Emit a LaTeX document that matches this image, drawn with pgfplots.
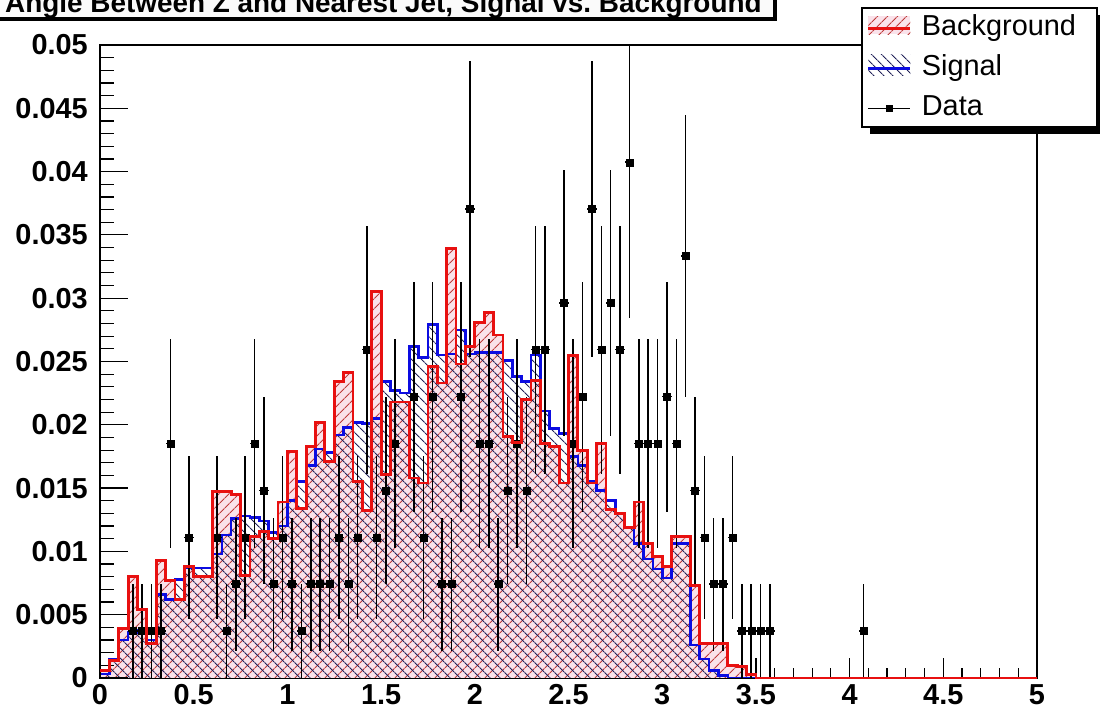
\documentclass[border=0pt]{standalone}
\usepackage{fontspec}
\setmainfont{Liberation Sans}
\usepackage{pgfplots}
\usepackage{pgfplotstable}
\pgfplotsset{compat=1.18}
\usetikzlibrary{patterns.meta}

\definecolor{bkgline}{RGB}{232,16,16}
\definecolor{sigline}{RGB}{12,12,225}
\definecolor{bkghatch}{RGB}{190,60,60}
\definecolor{sighatch}{RGB}{35,35,90}
\definecolor{bkgfill}{RGB}{250,226,234}

% background histogram: left bin edge, content
\pgfplotstableread{
x y
0.00 0.0006
0.05 0.0014
0.10 0.0039
0.15 0.0080
0.20 0.0054
0.25 0.0027
0.30 0.0093
0.35 0.0077
0.40 0.0062
0.45 0.0088
0.50 0.0080
0.55 0.0080
0.60 0.0147
0.65 0.0147
0.70 0.0145
0.75 0.0081
0.80 0.0112
0.85 0.0116
0.90 0.0110
0.95 0.0139
1.00 0.0179
1.05 0.0134
1.10 0.0183
1.15 0.0202
1.20 0.0171
1.25 0.0234
1.30 0.0241
1.35 0.0155
1.40 0.0132
1.45 0.0305
1.50 0.0161
1.55 0.0218
1.60 0.0218
1.65 0.0158
1.70 0.0154
1.75 0.0246
1.80 0.0233
1.85 0.0339
1.90 0.0248
1.95 0.0262
2.00 0.0281
2.05 0.0289
2.10 0.0271
2.15 0.0191
2.20 0.0186
2.25 0.0220
2.30 0.0235
2.35 0.0185
2.40 0.0183
2.45 0.0154
2.50 0.0255
2.55 0.0180
2.60 0.0154
2.65 0.0185
2.70 0.0133
2.75 0.0130
2.80 0.0119
2.85 0.0139
2.90 0.0106
2.95 0.0096
3.00 0.0088
3.05 0.0112
3.10 0.0112
3.15 0.0073
3.20 0.0027
3.25 0.0027
3.30 0.0027
3.35 0.0010
3.40 0.0009
3.45 0.0003
3.50 0.0000
5.00 0.0000
}\bkgtab

% signal histogram
\pgfplotstableread{
x y
0.00 0.0003
0.05 0.0015
0.10 0.0030
0.15 0.0036
0.20 0.0038
0.25 0.0030
0.30 0.0066
0.35 0.0062
0.40 0.0078
0.45 0.0087
0.50 0.0087
0.55 0.0087
0.60 0.0098
0.65 0.0113
0.70 0.0126
0.75 0.0128
0.80 0.0127
0.85 0.0124
0.90 0.0115
0.95 0.0120
1.00 0.0140
1.05 0.0155
1.10 0.0168
1.15 0.0181
1.20 0.0178
1.25 0.0192
1.30 0.0198
1.35 0.0202
1.40 0.0201
1.45 0.0205
1.50 0.0234
1.55 0.0227
1.60 0.0225
1.65 0.0262
1.70 0.0253
1.75 0.0279
1.80 0.0255
1.85 0.0256
1.90 0.0275
1.95 0.0256
2.00 0.0257
2.05 0.0257
2.10 0.0257
2.15 0.0251
2.20 0.0238
2.25 0.0234
2.30 0.0255
2.35 0.0211
2.40 0.0197
2.45 0.0193
2.50 0.0175
2.55 0.0168
2.60 0.0155
2.65 0.0148
2.70 0.0140
2.75 0.0130
2.80 0.0119
2.85 0.0106
2.90 0.0094
2.95 0.0086
3.00 0.0079
3.05 0.0106
3.10 0.0106
3.15 0.0026
3.20 0.0015
3.25 0.0006
3.30 0.0002
3.35 0.0000
5.00 0.0000
}\sigtab

% data: bin centre, half bin width, content, stat. error
\pgfplotstableread{
x ex y ey
0.175 0.025 0.00370 0.00370
0.225 0.025 0.00370 0.00370
0.275 0.025 0.00370 0.00370
0.325 0.025 0.00370 0.00370
0.375 0.025 0.01852 0.00828
0.475 0.025 0.01111 0.00642
0.625 0.025 0.01111 0.00642
0.675 0.025 0.00370 0.00370
0.725 0.025 0.00741 0.00524
0.775 0.025 0.01111 0.00642
0.825 0.025 0.01852 0.00828
0.875 0.025 0.01481 0.00741
0.925 0.025 0.00741 0.00524
0.975 0.025 0.01111 0.00642
1.025 0.025 0.00741 0.00524
1.075 0.025 0.00370 0.00370
1.125 0.025 0.00741 0.00524
1.175 0.025 0.00741 0.00524
1.225 0.025 0.00741 0.00524
1.275 0.025 0.01111 0.00642
1.325 0.025 0.00741 0.00524
1.375 0.025 0.01111 0.00642
1.425 0.025 0.02593 0.00980
1.475 0.025 0.01111 0.00642
1.525 0.025 0.01481 0.00741
1.575 0.025 0.01852 0.00828
1.675 0.025 0.02222 0.00907
1.725 0.025 0.01111 0.00642
1.775 0.025 0.02222 0.00907
1.825 0.025 0.00741 0.00524
1.875 0.025 0.00741 0.00524
1.925 0.025 0.02222 0.00907
1.975 0.025 0.03704 0.01171
2.025 0.025 0.01852 0.00828
2.075 0.025 0.01852 0.00828
2.125 0.025 0.00741 0.00524
2.175 0.025 0.01481 0.00741
2.225 0.025 0.01852 0.00828
2.275 0.025 0.01481 0.00741
2.325 0.025 0.02593 0.00980
2.375 0.025 0.02593 0.00980
2.475 0.025 0.02963 0.01048
2.525 0.025 0.01852 0.00828
2.575 0.025 0.02222 0.00907
2.625 0.025 0.03704 0.01171
2.675 0.025 0.02593 0.00980
2.725 0.025 0.02963 0.01048
2.775 0.025 0.02593 0.00980
2.825 0.025 0.04074 0.01228
2.875 0.025 0.01852 0.00828
2.925 0.025 0.01852 0.00828
2.975 0.025 0.01852 0.00828
3.025 0.025 0.02222 0.00907
3.075 0.025 0.01852 0.00828
3.125 0.025 0.03333 0.01111
3.175 0.025 0.01481 0.00741
3.225 0.025 0.01111 0.00642
3.275 0.025 0.00741 0.00524
3.325 0.025 0.00741 0.00524
3.375 0.025 0.01111 0.00642
3.425 0.025 0.00370 0.00370
3.475 0.025 0.00370 0.00370
3.525 0.025 0.00370 0.00370
3.575 0.025 0.00370 0.00370
4.075 0.025 0.00370 0.00370
}\datatab

\pgfplotsset{
  frame geometry/.style={
    at={(0,0)}, anchor=south west, scale only axis,
    width=937bp, height=633bp,
    xmin=0, xmax=5, ymin=0, ymax=0.05,
    scaled x ticks=false, scaled y ticks=false,
  },
  bkg legend/.style={legend image code/.code={
    \path[draw=none, fill=none] (0bp,-14bp) rectangle (42bp,14bp);
    \fill[bkgfill, draw=none] (0bp,-6bp) rectangle (42bp,12bp);
    \fill[draw=none, pattern={Lines[angle=45,distance=6.8bp,line width=1bp]}, pattern color=bkghatch] (0bp,-6bp) rectangle (42bp,12bp);
    \draw[bkgline, line width=2.8bp] (0bp,0bp) -- (42bp,0bp);}},
  sig legend/.style={legend image code/.code={
    \path[draw=none, fill=none] (0bp,-14bp) rectangle (42bp,14bp);
    \fill[draw=none, pattern={Lines[angle=-45,distance=6.8bp,line width=1bp]}, pattern color=sighatch] (0bp,-7bp) rectangle (42bp,14bp);
    \draw[sigline, line width=2.6bp] (0bp,0bp) -- (42bp,0bp);}},
  data legend/.style={legend image code/.code={
    \path[draw=none, fill=none] (0bp,-14bp) rectangle (42bp,14bp);
    \draw[black, line width=1.5bp] (0bp,0bp) -- (42bp,0bp);
    \fill[black, draw=none] (17.5bp,-3.5bp) rectangle (24.5bp,3.5bp);}},
}

\begin{document}
\begin{tikzpicture}[x=1bp,y=1bp]

% main frame: histograms, data, x ticks and all tick labels
\begin{axis}[
  frame geometry,
  axis line style={line width=1.5bp, black},
  tick align=inside, xtick pos=left, ytick pos=left,
  xtick={0,0.5,1,1.5,2,2.5,3,3.5,4,4.5,5},
  xticklabels={0,0.5,1,1.5,2,2.5,3,3.5,4,4.5,5},
  minor x tick num=4,
  ytick={0,0.005,0.01,0.015,0.02,0.025,0.03,0.035,0.04,0.045,0.05},
  yticklabels={0,0.005,0.01,0.015,0.02,0.025,0.03,0.035,0.04,0.045,0.05},
  ytick style={draw=none},
  major tick length=20bp, minor tick length=10bp,
  tick style={black, line width=1.2bp},
  ticklabel style={font=\fontsize{29}{29}\selectfont\bfseries},
  xticklabel style={inner sep=0pt, yshift=-6bp},
  yticklabel style={inner sep=0pt, xshift=-12bp},
]
\coordinate (O) at (rel axis cs:0,0);
% background: pink fill and / hatching
\addplot[const plot, draw=none, fill=bkgfill, forget plot] table[x=x,y=y] {\bkgtab} \closedcycle;
\addplot[const plot, draw=none, pattern={Lines[angle=45,distance=6.8bp,line width=1bp]}, pattern color=bkghatch, forget plot] table[x=x,y=y] {\bkgtab} \closedcycle;
% signal: \ hatching
\addplot[const plot, draw=none, pattern={Lines[angle=-45,distance=6.8bp,line width=1bp]}, pattern color=sighatch, forget plot] table[x=x,y=y] {\sigtab} \closedcycle;
% signal outline
\addplot[const plot, draw=sigline, line width=2.6bp, forget plot] table[x=x,y=y] {\sigtab};
% data with statistical errors
\addplot[only marks, mark=square*, mark size=3.5bp, black, forget plot,
  error bars/.cd, x dir=both, x explicit, y dir=both, y explicit,
  error bar style={line width=1.5bp, black}, error mark=none]
  table[x=x, y=y, x error=ex, y error=ey] {\datatab};
\end{axis}

% y ticks (longer than the x ticks); background outline drawn over the frame
\begin{axis}[
  frame geometry, at={(O)},
  hide x axis,
  axis y line*=left,
  y axis line style={line width=1.5bp, black},
  tick align=inside, ytick pos=left,
  ytick={0,0.005,0.01,0.015,0.02,0.025,0.03,0.035,0.04,0.045,0.05},
  yticklabels={},
  yticklabel style={inner sep=0pt},
  minor y tick num=4,
  major tick length=28bp, minor tick length=14bp,
  tick style={black, line width=1.2bp},
  clip=false,
]
\coordinate (O2) at (rel axis cs:0,0);
\addplot[const plot, draw=bkgline, line width=2.8bp, forget plot] table[x=x,y=y] {\bkgtab};
\end{axis}

\begin{scope}[shift={(O)}]
% title box
\fill[black] (-102,657) rectangle (677,680);
\filldraw[fill=gray!4, draw=black, line width=1.2bp] (-105,660) rectangle (674,683);
\node[anchor=base west, inner sep=0pt, font=\fontsize{28}{28}\selectfont\bfseries]
  at (-95,665.5) {Angle Between Z and Nearest Jet, Signal vs.\ Background};
% legend box
\fill[black] (770,544) rectangle (1005,663);
\filldraw[fill=white, draw=black, line width=1.5bp] (762,551) rectangle (997,670);
\end{scope}

\begin{axis}[
  frame geometry, at={(O)}, hide axis,
  legend cell align=left,
  legend style={at={(0.8186,1.0553)}, anchor=north west, draw=none, fill=none,
    inner sep=0pt, outer sep=0pt, font=\fontsize{29}{29}\selectfont,
    row sep=3bp, column sep=5bp,
    nodes={inner sep=5bp, text height=21bp, text depth=6bp}},
]
\coordinate (O3) at (rel axis cs:0,0);
\addlegendimage{bkg legend}
\addlegendentry{Background}
\addlegendimage{sig legend}
\addlegendentry{Signal}
\addlegendimage{data legend}
\addlegendentry{Data}
\end{axis}

\pgfresetboundingbox
\path[use as bounding box, shift={(O)}] (-100,-34) rectangle (1000,678);
\end{tikzpicture}
\end{document}
